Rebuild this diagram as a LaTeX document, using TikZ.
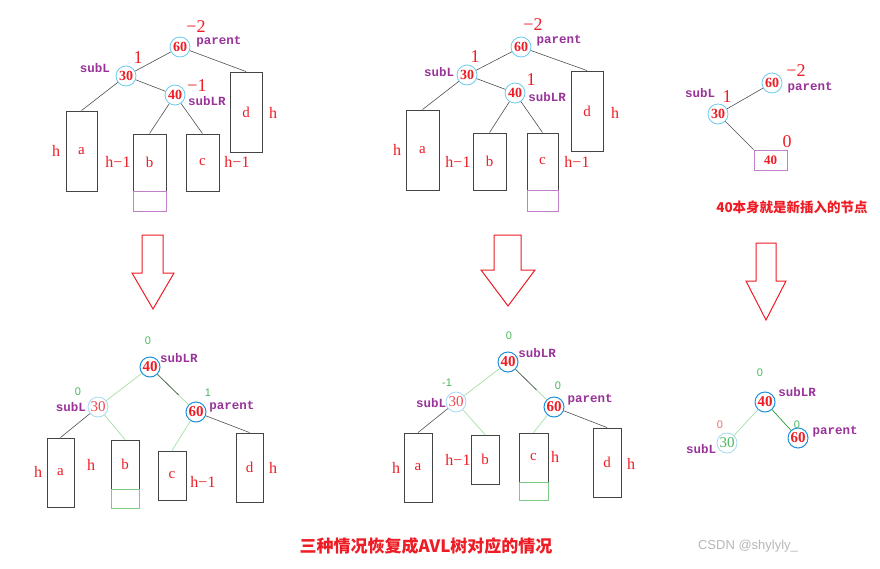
\documentclass[tikz,border=0pt]{standalone}
\usepackage{fontspec}
\setmainfont{Liberation Serif}
\newfontfamily\monob{Liberation Mono}
\newfontfamily\cjk{Noto Sans CJK SC}
\newfontfamily\sansf{Liberation Sans}
\definecolor{tred}{HTML}{EE1C25}
\definecolor{tpurple}{HTML}{993399}
\definecolor{tblue}{HTML}{6CCBEF}
\definecolor{dblue}{HTML}{1E8FDD}
\definecolor{lblue}{HTML}{A8D8F0}
\definecolor{tgreen}{HTML}{4CB860}
\definecolor{lgreen}{HTML}{A6DFA6}
\definecolor{dgreen}{HTML}{2E9A3A}
\definecolor{bpurple}{HTML}{C080C8}
\definecolor{bgreen}{HTML}{7CCB84}
\definecolor{edgegray}{HTML}{505050}
\definecolor{boxgray}{HTML}{444444}
\definecolor{pinkred}{HTML}{F07070}
\tikzset{
  every node/.style={inner sep=0pt},
  vtx/.style={circle, draw=tblue, line width=0.8pt, minimum size=20pt, fill=white,
    text=tred, font=\fontsize{14}{14}\selectfont\bfseries},
  bvtx/.style={circle, draw=dblue, line width=1pt, minimum size=20pt, fill=white,
    text=tred, font=\fontsize{15}{15}\selectfont\bfseries},
  lvtx/.style={circle, draw=lblue, line width=0.8pt, minimum size=20pt,
    text=tred!80, font=\fontsize{15}{15}\selectfont},
  tbox/.style={rectangle, draw=boxgray, line width=0.9pt, text=tred,
    font=\fontsize{15}{15}\selectfont},
  pbox/.style={rectangle, draw=bpurple, line width=0.8pt},
  gbox/.style={rectangle, draw=bgreen, line width=0.8pt},
  bal/.style={text=tred, font=\fontsize{18}{18}\selectfont},
  sbal/.style={text=tgreen, font=\sansf\fontsize{11}{11}\selectfont},
  lab/.style={text=tpurple, font=\monob\fontsize{12.5}{12.5}\selectfont\bfseries},
  hlab/.style={text=tred, font=\fontsize{16}{16}\selectfont},
  edge/.style={draw=edgegray, line width=0.6pt},
  gedge/.style={draw=lgreen, line width=0.7pt},
  downarrow/.style={draw=tred, line width=1pt, line join=miter},
}
\begin{document}
\begin{tikzpicture}[x=1pt,y=-1pt]
\useasboundingbox[fill=white] (0,0) rectangle (880,568);

% ================= top panel 1 =================
\node[tbox, minimum width=31pt, minimum height=80pt] (a1) at (81.5,151) {a};
\node[tbox, minimum width=33pt, minimum height=57pt] (b1) at (149.5,162.5) {b};
\node[pbox, minimum width=33pt, minimum height=20pt] (b1x) at (149.5,201) {};
\node[tbox, minimum width=33pt, minimum height=57pt] (c1) at (202.5,162.5) {c};
\node[tbox, minimum width=32pt, minimum height=80pt] (d1) at (246,112) {d};
\node[vtx] (p1) at (180,47) {60};
\node[vtx] (l1) at (126,76) {30};
\node[vtx] (r1) at (175,95) {40};
\draw[edge] (p1) -- (l1);
\draw[edge] (p1) -- (d1.north);
\draw[edge] (l1) -- (a1.north);
\draw[edge] (l1) -- (r1);
\draw[edge] (r1) -- (b1.north);
\draw[edge] (r1) -- (c1.north);
\node[bal] (p1b) at (196,27) {−2};
\node[lab] (p1n) at (219,42) {parent};
\node[bal] (l1b) at (138,58) {1};
\node[lab] (l1n) at (95,68) {subL};
\node[bal] (r1b) at (197,86) {−1};
\node[lab] (r1n) at (207,101) {subLR};
\node[hlab] (h1a) at (56,151) {h};
\node[hlab] (h1b) at (118,162) {h−1};
\node[hlab] (h1c) at (237,162) {h−1};
\node[hlab] (h1d) at (273,113) {h};

% ================= top panel 2 =================
\node[tbox, minimum width=33pt, minimum height=80pt] (a2) at (422.5,150) {a};
\node[tbox, minimum width=33pt, minimum height=57pt] (b2) at (489.5,161.5) {b};
\node[tbox, minimum width=31pt, minimum height=57pt] (c2) at (542.5,161.5) {c};
\node[pbox, minimum width=31pt, minimum height=21pt] (c2x) at (542.5,200.5) {};
\node[tbox, minimum width=32pt, minimum height=80pt] (d2) at (587,111) {d};
\node[vtx] (p2) at (521,47) {60};
\node[vtx] (l2) at (467,75) {30};
\node[vtx] (r2) at (515,93) {40};
\draw[edge] (p2) -- (l2);
\draw[edge] (p2) -- (d2.north);
\draw[edge] (l2) -- (a2.north);
\draw[edge] (l2) -- (r2);
\draw[edge] (r2) -- (b2.north);
\draw[edge] (r2) -- (c2.north);
\node[bal] (p2b) at (533,25) {−2};
\node[lab] (p2n) at (559,41) {parent};
\node[bal] (l2b) at (475,57) {1};
\node[lab] (l2n) at (439,72) {subL};
\node[bal] (r2b) at (531,80) {1};
\node[lab] (r2n) at (547,97) {subLR};
\node[hlab] (h2a) at (397,150) {h};
\node[hlab] (h2b) at (458,162) {h−1};
\node[hlab] (h2c) at (577,162) {h−1};
\node[hlab] (h2d) at (615,113) {h};

% ================= top panel 3 =================
\node[pbox, minimum width=33pt, minimum height=20pt, text=tred,
      font=\fontsize{13}{13}\selectfont\bfseries] (n3) at (770.5,160) {40};
\node[vtx] (p3) at (772,83) {60};
\node[vtx] (l3) at (718,114) {30};
\draw[edge] (p3) -- (l3);
\draw[edge] (l3) -- (n3.north west);
\node[bal] (p3b) at (796,71) {−2};
\node[lab] (p3n) at (810,88) {parent};
\node[bal] (l3b) at (727,97) {1};
\node[lab] (l3n) at (700,93) {subL};
\node[bal] (n3b) at (787,142) {0};
\node[text=tred, font=\cjk\fontsize{13.5}{13.5}\selectfont\bfseries] (note) at (792,207) {40本身就是新插入的节点};

% ================= arrows =================
\draw[downarrow] (142,235) -- (163,235) -- (163,273) -- (174,273) -- (153,309)
  -- (132,273) -- (142,273) -- cycle;
\draw[downarrow] (494,235) -- (521,235) -- (521,270) -- (535,270) -- (508,306)
  -- (481,270) -- (494,270) -- cycle;
\draw[downarrow] (756,243) -- (776,243) -- (776,281) -- (786,281) -- (766,320)
  -- (746,281) -- (756,281) -- cycle;

% ================= bottom panel 1 =================
\node[tbox, minimum width=27pt, minimum height=69pt] (a4) at (60.5,472.5) {a};
\node[tbox, minimum width=28pt, minimum height=49pt] (b4) at (125,464.5) {b};
\node[gbox, minimum width=28pt, minimum height=19pt] (b4x) at (125,498.5) {};
\node[tbox, minimum width=28pt, minimum height=49pt] (c4) at (172,475.5) {c};
\node[tbox, minimum width=27pt, minimum height=69pt] (d4) at (249.5,467.5) {d};
\node[bvtx] (r4) at (150,367) {40};
\node[lvtx] (l4) at (98,407) {30};
\node[bvtx] (p4) at (196,412) {60};
\draw[gedge] (r4) -- (l4);
\draw[gedge] (r4) -- (p4);
\draw[edge, shorten >=14pt] (r4) -- (p4);
\draw[edge] (l4) -- (a4.north);
\draw[gedge] (l4) -- (b4.north);
\draw[gedge] (p4) -- (c4.north);
\draw[edge] (p4) -- (d4.north);
\node[sbal] (r4b) at (148,341) {0};
\node[lab] (r4n) at (179,358) {subLR};
\node[sbal] (l4b) at (78,392) {0};
\node[lab] (l4n) at (71,407) {subL};
\node[sbal] (p4b) at (208,393) {1};
\node[lab] (p4n) at (232,407) {parent};
\node[hlab] (h4a) at (38,472) {h};
\node[hlab] (h4b) at (91,465) {h};
\node[hlab] (h4c) at (203,482) {h−1};
\node[hlab] (h4d) at (273,468) {h};

% ================= bottom panel 2 =================
\node[tbox, minimum width=28pt, minimum height=69pt] (a5) at (418,467.5) {a};
\node[tbox, minimum width=28pt, minimum height=49pt] (b5) at (485,459.5) {b};
\node[tbox, minimum width=29pt, minimum height=49pt] (c5) at (533.5,457.5) {c};
\node[gbox, minimum width=29pt, minimum height=18pt] (c5x) at (533.5,491) {};
\node[tbox, minimum width=28pt, minimum height=69pt] (d5) at (607,462.5) {d};
\node[bvtx] (r5) at (508,362) {40};
\node[lvtx] (l5) at (456,402) {30};
\node[bvtx] (p5) at (554,407) {60};
\draw[gedge] (r5) -- (l5);
\draw[gedge] (r5) -- (p5);
\draw[edge, shorten >=14pt] (r5) -- (p5);
\draw[edge] (l5) -- (a5.north);
\draw[gedge] (l5) -- (b5.north);
\draw[gedge] (p5) -- (c5.north);
\draw[edge] (p5) -- (d5.north);
\node[sbal] (r5b) at (509,336) {0};
\node[lab] (r5n) at (537,353) {subLR};
\node[sbal] (l5b) at (447,383) {-1};
\node[lab] (l5n) at (431,403) {subL};
\node[sbal] (p5b) at (558,386) {0};
\node[lab] (p5n) at (590,400) {parent};
\node[hlab] (h5a) at (396,468) {h};
\node[hlab] (h5b) at (458,460) {h−1};
\node[hlab] (h5c) at (555,457) {h};
\node[hlab] (h5d) at (631,464) {h};

% ================= bottom panel 3 =================
\node[sbal] (p6b) at (797,425) {0};
\node[bvtx] (r6) at (765,402) {40};
\node[lvtx, text=tgreen] (l6) at (727,443) {30};
\node[bvtx] (p6) at (798,438) {60};
\draw[gedge] (r6) -- (l6);
\draw[draw=dgreen, line width=0.7pt] (r6) -- (p6);
\node[sbal] (r6b) at (760,373) {0};
\node[lab] (r6n) at (797,392) {subLR};
\node[sbal, text=pinkred] (l6b) at (720,425) {0};
\node[lab] (l6n) at (701,449) {subL};
\node[lab] (p6n) at (835,432) {parent};

% ================= caption =================
\node[text=tred, font=\cjk\fontsize{17}{17}\selectfont\bfseries] (cap) at (426,546) {三种情况恢复成AVL树对应的情况};
\node[text=black!28, font=\sansf\fontsize{13}{13}\selectfont] (wm) at (748,546) {CSDN @shylyly\_};
\end{tikzpicture}
\end{document}
